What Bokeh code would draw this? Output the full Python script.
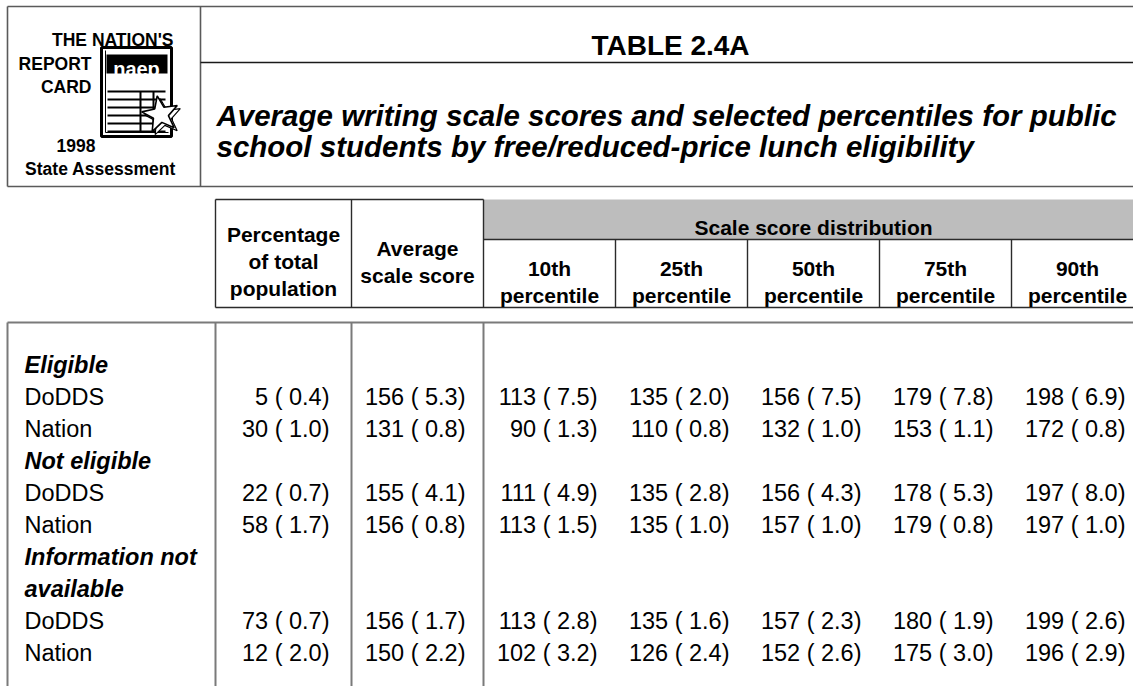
from bokeh.plotting import figure
from bokeh.models import Range1d
from bokeh.core.properties import value
from bokeh.embed import file_html
from bokeh.resources import INLINE
import numpy as np

# ---------------- data ----------------
logo_lines = ["THE NATION'S", "REPORT", "CARD", "1998", "State Assessment"]
title = "TABLE 2.4A"
subtitle_lines = ["Average writing scale scores and selected percentiles for public",
                  "school students by free/reduced-price lunch eligibility"]
col_headers = [["Percentage", "of total", "population"], ["Average", "scale score"]]
spread_header = "Scale score distribution"
percentile_headers = [["10th", "percentile"], ["25th", "percentile"], ["50th", "percentile"],
                      ["75th", "percentile"], ["90th", "percentile"]]
groups = [["Eligible"], ["Not eligible"], ["Information not", "available"]]
jurisdictions = ["DoDDS", "Nation"]

pct_total = [[5, 30], [22, 58], [73, 12]]
pct_total_se = [[0.4, 1.0], [0.7, 1.7], [0.7, 2.0]]
avg_score = [[156, 131], [155, 156], [156, 150]]
avg_score_se = [[5.3, 0.8], [4.1, 0.8], [1.7, 2.2]]
p10 = [[113, 90], [111, 113], [113, 102]]
p10_se = [[7.5, 1.3], [4.9, 1.5], [2.8, 3.2]]
p25 = [[135, 110], [135, 135], [135, 126]]
p25_se = [[2.0, 0.8], [2.8, 1.0], [1.6, 2.4]]
p50 = [[156, 132], [156, 157], [157, 152]]
p50_se = [[7.5, 1.0], [4.3, 1.0], [2.3, 2.6]]
p75 = [[179, 153], [178, 179], [180, 175]]
p75_se = [[7.8, 1.1], [5.3, 0.8], [1.9, 3.0]]
p90 = [[198, 172], [197, 197], [199, 196]]
p90_se = [[6.9, 0.8], [8.0, 1.0], [2.6, 2.9]]

columns = [(pct_total, pct_total_se), (avg_score, avg_score_se), (p10, p10_se),
           (p25, p25_se), (p50, p50_se), (p75, p75_se), (p90, p90_se)]

# ---------------- layout ----------------
W, H = 1133, 686
FONT = value("Liberation Sans")

FR_LEFT, FR_TOP, FR_DIV, FR_MID, FR_BOT, FR_RIGHT = 7, 6, 200, 62, 186, 1143
col_left = [215, 351, 483, 615, 747, 879, 1011]
col_right = col_left[1:] + [1143]
HEAD_TOP, BAND_BOT, HEAD_BOT, BODY_TOP, BODY_BOT = 199, 239, 307, 322, 700
LABEL_X = 24
BODY_BASE0, ROW_STEP = 364, 32
NUM_PAD = 114
HEAD_LEAD = 27

p = figure(width=W, height=H, x_range=Range1d(0, W), y_range=Range1d(H, 0),
           output_backend="svg", toolbar_location=None, min_border=0,
           x_axis_type=None, y_axis_type=None)
p.grid.visible = False
p.outline_line_color = None
p.background_fill_color = "white"
p.border_fill_color = "white"


def seg(x0, y0, x1, y1, color, width):
    p.segment(x0=x0, y0=y0, x1=x1, y1=y1, line_color=color, line_width=width)


def txt(xs, ys, texts, size, style="normal", align="left", color="black"):
    p.text(x=xs, y=ys, text=texts, text_font=FONT, text_font_size=size,
           text_font_style=style, text_align=align, text_baseline="alphabetic",
           text_color=color)


# ---------------- header frame ----------------
FC = "#5a5a5a"
seg([FR_LEFT, FR_LEFT, FR_DIV], [FR_TOP, FR_BOT, FR_TOP],
    [FR_RIGHT, FR_RIGHT, FR_DIV], [FR_TOP, FR_BOT, FR_BOT], FC, 1.6)
seg([FR_LEFT], [FR_TOP], [FR_LEFT], [FR_BOT], FC, 1.6)
seg([FR_DIV], [FR_MID], [FR_RIGHT], [FR_MID], "#1a1a1a", 1.4)

# logo text
txt([173, 91, 91, 95], [39, 63, 86, 145], logo_lines[:4], "17.5px", "bold", "right")
txt([100], [168], [logo_lines[4]], "17.5px", "bold", "center")

# logo card
CX0, CX1, CY0, CY1 = 101, 171, 47, 136
p.quad(left=[CX0], right=[CX1], top=[CY0], bottom=[CY1], fill_color="white",
       line_color="black", line_width=3)
seg([CX0 + 4, CX0 + 4], [CY0 + 3, CY1 - 4], [CX0 + 4, CX1 - 3], [CY1 - 4, CY1 - 4], "black", 1)
p.quad(left=[CX0 + 5], right=[CX1 - 4], top=[CY0 + 7], bottom=[CY0 + 26], fill_color="black",
       line_color=None)
txt([(CX0 + CX1) / 2], [CY0 + 21], ["naep"], "20px", "bold", "center", "white")
ly = np.linspace(CY0 + 44, CY1 - 5, 6)
seg([CX0 + 6] * 6, list(ly), [CX1 - 6] * 6, list(ly), "black", 2)
seg([CX0 + 39, CX0 + 52], [ly[0]] * 2, [CX0 + 39, CX0 + 52], [ly[-1]] * 2, "black", 2)
# star
ang = np.deg2rad(-100) + np.arange(10) * np.pi / 5
rad = np.where(np.arange(10) % 2 == 0, 19, 8)
sx, sy = 160 + rad * np.cos(ang), 114 + rad * np.sin(ang)
p.patch(list(sx + 3), list(sy + 3), fill_color="white", line_color="black", line_width=1.2)
p.patch(list(sx), list(sy), fill_color="white", line_color="black", line_width=1.6)

# title and subtitle
txt([670], [45], [title], "28px", "bold", "center")
txt([216, 216], [115, 146], subtitle_lines, "29.5px", "bold italic", "left")

# ---------------- table header ----------------
p.quad(left=[col_left[2]], right=[col_right[-1]], top=[HEAD_TOP], bottom=[BAND_BOT],
       fill_color="#bdbdbd", line_color=None)
HC = "#2b2b2b"
seg([col_left[0], col_left[2], col_left[0]], [HEAD_TOP, BAND_BOT, HEAD_BOT],
    [col_left[2], col_right[-1], col_right[-1]], [HEAD_TOP, BAND_BOT, HEAD_BOT], HC, 1.4)
seg(col_left[:3], [HEAD_TOP] * 3, col_left[:3], [HEAD_BOT] * 3, HC, 1.4)
seg(col_left[3:], [BAND_BOT] * 4, col_left[3:], [HEAD_BOT] * 4, HC, 1.4)

hx, hy, ht = [], [], []
for i, lines in enumerate(col_headers):
    cx = (col_left[i] + col_right[i]) / 2
    cy = (HEAD_TOP + HEAD_BOT) / 2
    n = len(lines)
    for k, s in enumerate(lines):
        hx.append(cx); hy.append(cy + (k - (n - 1) / 2) * HEAD_LEAD + 8); ht.append(s)
hx.append((col_left[2] + col_right[-1]) / 2); hy.append((HEAD_TOP + BAND_BOT) / 2 + 8)
ht.append(spread_header)
for j, lines in enumerate(percentile_headers):
    i = j + 2
    cx = (col_left[i] + col_right[i]) / 2
    cy = (BAND_BOT + HEAD_BOT) / 2
    n = len(lines)
    for k, s in enumerate(lines):
        hx.append(cx); hy.append(cy + (k - (n - 1) / 2) * HEAD_LEAD + 8); ht.append(s)
txt(hx, hy, ht, "21px", "bold", "center")

# ---------------- table body ----------------
BC = "#7a7a7a"
seg([FR_LEFT], [BODY_TOP], [col_right[-1]], [BODY_TOP], BC, 2)
vx = [FR_LEFT, col_left[0], col_left[1], col_left[2]]
seg(vx, [BODY_TOP] * 4, vx, [BODY_BOT] * 4, BC, 2)

gx, gy, gt = [], [], []
jx, jy, jt = [], [], []
nx, ny, nt = [], [], []
row = 0
for g, glines in enumerate(groups):
    for s in glines:
        gx.append(LABEL_X); gy.append(BODY_BASE0 + row * ROW_STEP); gt.append(s)
        row += 1
    for j, name in enumerate(jurisdictions):
        yb = BODY_BASE0 + row * ROW_STEP
        jx.append(LABEL_X); jy.append(yb); jt.append(name)
        for c, (vals, ses) in enumerate(columns):
            nx.append(col_left[c] + NUM_PAD); ny.append(yb)
            nt.append(f"{vals[g][j]} ( {ses[g][j]:.1f})")
        row += 1

txt(gx, gy, gt, "23.5px", "bold italic", "left")
txt(jx, jy, jt, "23.5px", "normal", "left")
txt(nx, ny, nt, "23.5px", "normal", "right")

open("out.html", "w").write(file_html(p, INLINE))
